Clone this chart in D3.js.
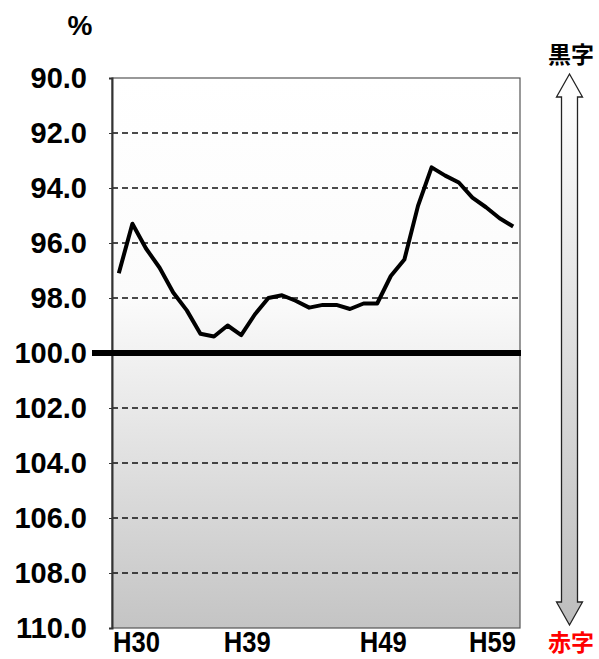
<!DOCTYPE html>
<html>
<head>
<meta charset="utf-8">
<script src="https://cdn.jsdelivr.net/npm/d3@7"></script>
<style>
    body { margin: 0; background: #fff; }
    text { font-family: "Liberation Sans", Arial, sans-serif; font-weight: bold; }
    .cjk { font-family: "Noto Sans CJK JP", sans-serif; font-weight: bold; }
</style>
</head>
<body>
<svg id="chart"></svg>
<script>
// Values (percent, axis is inverted: 90 at top)
const years = d3.range(30, 60);   // H30 .. H59
const ratio = [97.1, 95.3, 96.2, 96.9, 97.8, 98.45, 99.3, 99.4, 99.0, 99.35,
               98.6, 98.0, 97.9, 98.1, 98.35, 98.25, 98.25, 98.4, 98.2, 98.2,
               97.2, 96.6, 94.65, 93.25, 93.55, 93.8, 94.35, 94.7, 95.1, 95.4];
const yTicks = [90, 92, 94, 96, 98, 100, 102, 104, 106, 108, 110];
const xLabels = [30, 39, 49, 59];

const sg = {width: 599, height: 659};
const si = {};

si.svg = d3.select('#chart')
    .attr('width', sg.width)
    .attr('height', sg.height);

// gradient for the plot area and for the arrow
const defs = si.svg.append('defs');
const bg = defs.append('linearGradient').attr('id', 'bg')
    .attr('x1', 0).attr('y1', 0).attr('x2', 0).attr('y2', 1);
bg.append('stop').attr('offset', '0%').attr('stop-color', '#ffffff');
bg.append('stop').attr('offset', '40%').attr('stop-color', '#fbfbfb');
bg.append('stop').attr('offset', '100%').attr('stop-color', '#c4c4c4');
const ag = defs.append('linearGradient').attr('id', 'arrowGrad')
    .attr('x1', 0).attr('y1', 0).attr('x2', 0).attr('y2', 1);
ag.append('stop').attr('offset', '0%').attr('stop-color', '#ffffff');
ag.append('stop').attr('offset', '100%').attr('stop-color', '#bdbdbd');

// scales
si.x = d3.scalePoint().domain(years).range([112, 520]).padding(0.5);
si.y = d3.scaleLinear().domain([90, 110]).range([78, 628]);

// plot background
si.svg.append('rect')
    .attr('x', 112).attr('y', si.y(90))
    .attr('width', 408).attr('height', si.y(110) - si.y(90))
    .attr('fill', 'url(#bg)')
    .attr('stroke', '#555').attr('stroke-width', 1.2);

// dashed grid lines
si.svg.append('g')
    .selectAll('line')
    .data(yTicks.filter(d => d !== 90 && d !== 100 && d !== 110))
    .join('line')
    .attr('x1', 112).attr('x2', 520)
    .attr('y1', d => si.y(d)).attr('y2', d => si.y(d))
    .attr('stroke', '#111')
    .attr('stroke-width', 1.3)
    .attr('stroke-dasharray', '6,4');

// y axis (labels only, with small ticks)
const yAxis = d3.axisLeft(si.y)
    .tickValues(yTicks)
    .tickSize(3)
    .tickPadding(22)
    .tickFormat(d3.format('.1f'));
si.svg.append('g')
    .attr('transform', 'translate(112,0)')
    .call(yAxis)
    .call(g => g.select('.domain').attr('stroke', '#333').attr('stroke-width', 2))
    .call(g => g.selectAll('.tick line').attr('stroke', '#333'))
    .call(g => g.selectAll('.tick text')
        .attr('font-size', 29)
        .attr('font-family', '"Liberation Sans", Arial, sans-serif')
        .attr('font-weight', 'bold')
        .attr('fill', '#000'));

// thick 100 line
si.svg.append('line')
    .attr('x1', 92).attr('x2', 521)
    .attr('y1', si.y(100)).attr('y2', si.y(100))
    .attr('stroke', '#000').attr('stroke-width', 6);

// data line
si.svg.append('path')
    .datum(ratio)
    .attr('fill', 'none')
    .attr('stroke', '#000')
    .attr('stroke-width', 4)
    .attr('stroke-linejoin', 'round')
    .attr('d', d3.line().x((d, i) => si.x(years[i])).y(d => si.y(d)));

// x labels: first and last kept inside the frame, squeezed like a narrow font
si.svg.append('g')
    .selectAll('text')
    .data(xLabels)
    .join('text')
    .attr('x', (d, i) => i === 0 ? 113 : i === xLabels.length - 1 ? 516 : si.x(d) + 6)
    .attr('y', 652)
    .attr('text-anchor', (d, i) => i === 0 ? 'start' : i === xLabels.length - 1 ? 'end' : 'middle')
    .attr('font-size', 30)
    .attr('textLength', 47)
    .attr('lengthAdjust', 'spacingAndGlyphs')
    .text(d => 'H' + d);

// unit
si.svg.append('text')
    .attr('x', 80).attr('y', 35)
    .attr('text-anchor', 'middle')
    .attr('font-size', 28)
    .text('%');

// double arrow on the right
const arrow = {x: 569.5, hw: 13, sw: 8, y0: 74, y1: 625, head: 23};
const a = arrow;
si.svg.append('path')
    .attr('d', `M${a.x},${a.y0} L${a.x + a.hw},${a.y0 + a.head} L${a.x + a.sw},${a.y0 + a.head}
        L${a.x + a.sw},${a.y1 - a.head} L${a.x + a.hw},${a.y1 - a.head} L${a.x},${a.y1}
        L${a.x - a.hw},${a.y1 - a.head} L${a.x - a.sw},${a.y1 - a.head} L${a.x - a.sw},${a.y0 + a.head}
        L${a.x - a.hw},${a.y0 + a.head} Z`)
    .attr('fill', 'url(#arrowGrad)')
    .attr('stroke', '#222')
    .attr('stroke-width', 1.3);

si.svg.append('text')
    .attr('class', 'cjk')
    .attr('x', 571).attr('y', 63)
    .attr('text-anchor', 'middle')
    .attr('font-size', 23)
    .attr('fill', '#000')
    .text('黒字');

si.svg.append('text')
    .attr('class', 'cjk')
    .attr('x', 571).attr('y', 651)
    .attr('text-anchor', 'middle')
    .attr('font-size', 23)
    .attr('fill', '#ff0000')
    .text('赤字');
</script>
</body>
</html>
